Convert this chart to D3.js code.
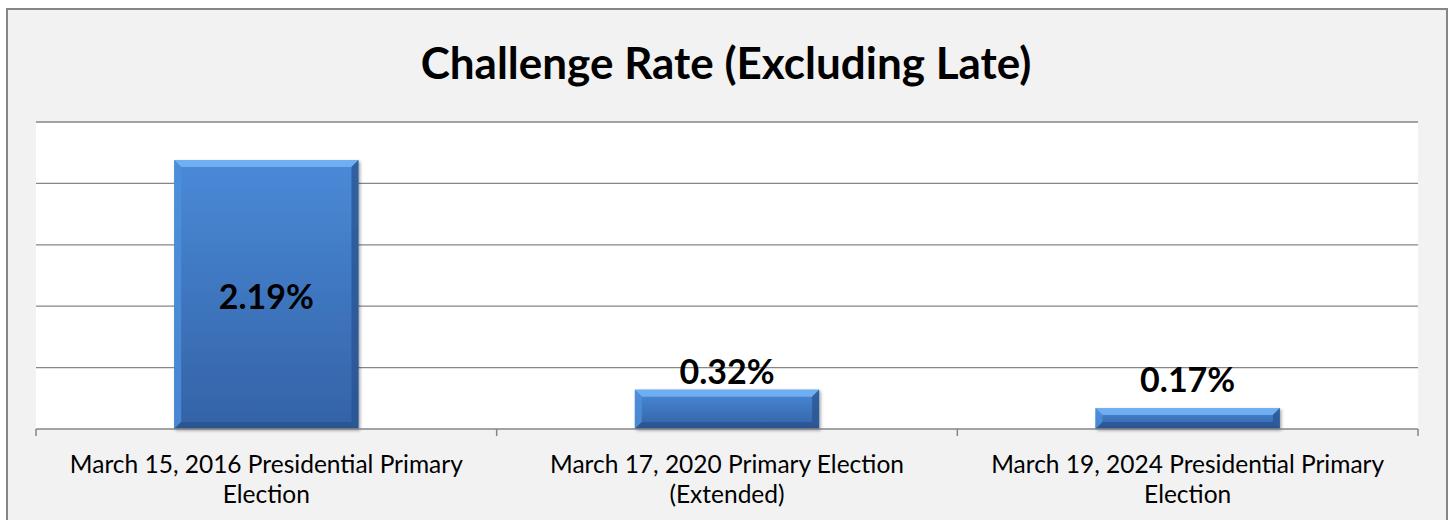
<!DOCTYPE html>
<html>
<head>
<meta charset="utf-8">
<script src="https://cdn.jsdelivr.net/npm/d3@7"></script>
<style>
  html, body { margin: 0; padding: 0; background: #fff; }
  svg { display: block; }
</style>
</head>
<body>
<div id="chart"></div>
<script>
    const categories = [
        ["March 15, 2016 Presidential Primary", "Election"],
        ["March 17, 2020 Primary Election", "(Extended)"],
        ["March 19, 2024 Presidential Primary", "Election"]
    ];
    const rates = [2.19, 0.32, 0.17];
    const yTicks = [0, 0.5, 1, 1.5, 2, 2.5];
    const title = "Challenge Rate (Excluding Late)";

    const w = 1453;
    const h = 520;
    const font = "Lato, 'Open Sans', sans-serif";

    const svg = d3.select("#chart")
        .append("svg")
        .attr("width", w)
        .attr("height", h)

    const defs = svg.append("defs")
    const grad = defs.append("linearGradient")
        .attr("id", "barFill")
        .attr("x1", 0).attr("y1", 0).attr("x2", 0).attr("y2", 1)
    grad.append("stop").attr("offset", "0%").attr("stop-color", "#4a8ad8")
    grad.append("stop").attr("offset", "100%").attr("stop-color", "#3362a6")

    const shadow = defs.append("filter").attr("id", "shadow")
        .attr("x", "-10%").attr("y", "-10%").attr("width", "130%").attr("height", "130%")
    shadow.append("feDropShadow")
        .attr("dx", 1.5).attr("dy", 1.5).attr("stdDeviation", 1.5)
        .attr("flood-color", "#000").attr("flood-opacity", 0.35)

    // chart area + border
    svg.append("rect")
        .attr("x", 7).attr("y", 9)
        .attr("width", 1440).attr("height", 530)
        .attr("fill", "#f2f2f2")
        .attr("stroke", "#868686")
        .attr("stroke-width", 2)

    svg.append("text")
        .attr("x", 726)
        .attr("y", 79)
        .attr("text-anchor", "middle")
        .style("font-family", font)
        .style("font-weight", "bold")
        .style("font-size", "44px")
        .attr("fill", "#000")
        .text(title)

    const plotL = 36, plotR = 1418, plotT = 122, plotB = 429;

    const x = d3.scaleBand()
        .domain(d3.range(rates.length))
        .range([plotL, plotR])
        .paddingInner(0.6)
        .paddingOuter(0.3)

    const y = d3.scaleLinear()
        .domain([0, 2.5])
        .range([plotB, plotT])

    // plot area
    svg.append("rect")
        .attr("x", plotL).attr("y", plotT)
        .attr("width", plotR - plotL).attr("height", plotB - plotT)
        .attr("fill", "#fff")

    svg.append("g")
        .selectAll("line")
        .data(yTicks.slice(1))
        .enter()
        .append("line")
        .attr("x1", plotL).attr("x2", plotR)
        .attr("y1", d => y(d)).attr("y2", d => y(d))
        .attr("stroke", "#868686")
        .attr("stroke-width", 1.3)

    // bars with a bevel
    const bars = svg.append("g")
        .selectAll("g")
        .data(rates)
        .enter()
        .append("g")
        .attr("filter", "url(#shadow)")

    bars.append("rect")
        .attr("x", (d, i) => x(i))
        .attr("y", d => y(d))
        .attr("width", x.bandwidth())
        .attr("height", d => y(0) - y(d))
        .attr("fill", "url(#barFill)")

    function bevel(d, i, side) {
        const x0 = x(i), x1 = x(i) + x.bandwidth();
        const y0 = y(d), y1 = y(0);
        const b = Math.min(7, (y1 - y0) / 3);
        if (side == "top") return [[x0, y0], [x1, y0], [x1 - b, y0 + b], [x0 + b, y0 + b]];
        if (side == "left") return [[x0, y0], [x0 + b, y0 + b], [x0 + b, y1 - b], [x0, y1]];
        if (side == "right") return [[x1, y0], [x1, y1], [x1 - b, y1 - b], [x1 - b, y0 + b]];
        return [[x0, y1], [x0 + b, y1 - b], [x1 - b, y1 - b], [x1, y1]];
    }
    const sides = [["top", "#73b3f5", 0.9], ["left", "#4f90dc", 0.8], ["right", "#2a5591", 0.8], ["bottom", "#2b5490", 0.8]];
    sides.forEach(s => {
        bars.append("polygon")
            .attr("points", (d, i) => bevel(d, i, s[0]).map(p => p.join(",")).join(" "))
            .attr("fill", s[1])
            .attr("opacity", s[2])
    })

    // baseline + category ticks
    svg.append("line")
        .attr("x1", plotL).attr("x2", plotR)
        .attr("y1", plotB).attr("y2", plotB)
        .attr("stroke", "#868686")
        .attr("stroke-width", 1.5)

    const step = x.step();
    svg.append("g")
        .selectAll("line")
        .data(d3.range(rates.length + 1))
        .enter()
        .append("line")
        .attr("x1", i => plotL + i * step).attr("x2", i => plotL + i * step)
        .attr("y1", plotB).attr("y2", plotB + 7)
        .attr("stroke", "#868686")
        .attr("stroke-width", 1.5)

    // data labels
    svg.append("g")
        .selectAll("text")
        .data(rates)
        .enter()
        .append("text")
        .attr("x", (d, i) => x(i) + x.bandwidth() / 2)
        .attr("y", d => {
            const hgt = y(0) - y(d);
            if (hgt > 60) return (y(d) + y(0)) / 2 + 14;
            return Math.min(y(d) - 6, y(0) - 37);
        })
        .attr("text-anchor", "middle")
        .style("font-family", font)
        .style("font-weight", "bold")
        .style("font-size", "34px")
        .attr("fill", "#000")
        .text(d => d.toFixed(2) + "%")

    // category labels
    const cat = svg.append("g")
        .selectAll("text")
        .data(categories)
        .enter()
        .append("text")
        .attr("x", (d, i) => x(i) + x.bandwidth() / 2)
        .attr("y", 473)
        .attr("text-anchor", "middle")
        .style("font-family", font)
        .style("font-size", "24.5px")
        .attr("fill", "#000")

    cat.selectAll("tspan")
        .data(d => d)
        .enter()
        .append("tspan")
        .attr("x", function () { return d3.select(this.parentNode).attr("x") })
        .attr("dy", (d, i) => i == 0 ? 0 : 30)
        .text(d => d)
</script>
</body>
</html>
